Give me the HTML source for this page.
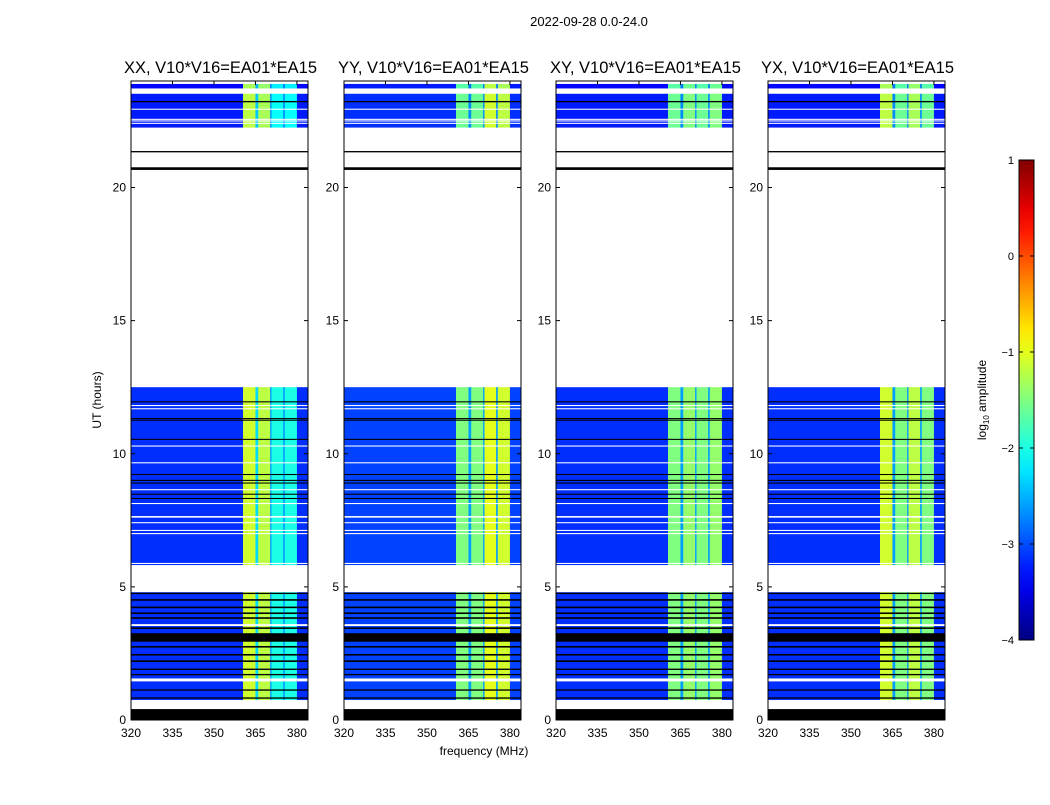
<!DOCTYPE html>
<html><head><meta charset="utf-8">
<style>
body{margin:0;background:#fff;width:1050px;height:800px;overflow:hidden;font-family:"Liberation Sans",sans-serif}
svg text{font-family:"Liberation Sans",sans-serif}
</style></head>
<body>
<svg id="chart" width="1050" height="800" xmlns="http://www.w3.org/2000/svg"></svg>
<script>
// ---- data ----
const panelTitles = ["XX, V10*V16=EA01*EA15","YY, V10*V16=EA01*EA15","XY, V10*V16=EA01*EA15","YX, V10*V16=EA01*EA15"];
const bandEdges = [320, 360.5, 365, 366, 370.3, 370.8, 375, 375.6, 380, 384]; // MHz
const bandLevelsXX = [-3.15, -1.1, -2.3, -1.2, -2.6, -2.0, -2.6, -2.0, -3.15];
const bandLevelsYY = [-3.05, -1.5, -2.6, -1.5, -2.6, -1.0, -2.6, -1.1, -3.05];
const bandLevelsXY = [-3.15, -1.5, -2.6, -1.4, -2.6, -1.5, -2.6, -1.4, -3.15];
const bandLevelsYX = [-3.15, -1.1, -2.6, -1.5, -2.6, -1.2, -2.6, -1.5, -3.15];
const blockStarts = [0.75, 5.82, 22.25, 23.72];
const blockEnds   = [4.80, 12.50, 23.52, 23.89];
const blockDim    = [0, 0, -0.1, -0.2];
const flagBlackStart = [0.0, 0.8, 1.1, 1.68, 1.88, 2.18, 2.42, 2.72, 2.94, 3.42, 3.8, 3.98, 4.2, 4.48, 4.73, 8.3, 8.46, 8.88, 8.98, 9.2, 10.52, 11.24, 11.3, 11.93, 23.2, 21.32, 20.66];
const flagBlackEnd   = [0.41, 0.85, 1.15, 1.73, 1.93, 2.24, 2.48, 2.78, 3.26, 3.48, 3.86, 4.04, 4.26, 4.54, 4.78, 8.34, 8.5, 8.92, 9.02, 9.24, 10.56, 11.28, 11.34, 11.97, 23.25, 21.37, 20.76];
const flagWhiteStart = [1.45, 3.53, 5.86, 6.98, 7.1, 7.39, 7.6, 8.11, 8.63, 9.64, 10.27, 11.67, 11.79, 22.39, 22.48, 22.54, 22.92];
const flagWhiteEnd   = [1.56, 3.6, 5.9, 7.02, 7.14, 7.43, 7.66, 8.15, 8.67, 9.68, 10.31, 11.71, 11.83, 22.43, 22.52, 22.58, 22.96];
const xTicks = [320, 335, 350, 365, 380];
const yTicks = [0, 5, 10, 15, 20];
const cbTicks = [-4, -3, -2, -1, 0, 1];

// ---- layout ----
const NS="http://www.w3.org/2000/svg";
const svg=document.getElementById('chart');
const panelLefts=[131,344,556,768], PW=177, TOP=81, BOT=720;
const fMin=320, fMax=384, hMin=0, hMax=24;
function mk(tag,attrs,parent){const e=document.createElementNS(NS,tag);for(const k in attrs)e.setAttribute(k,attrs[k]);(parent||svg).appendChild(e);return e;}
function jet(v){let t=(v+4)/5;t=Math.max(0,Math.min(1,t));
 const r=Math.max(0,Math.min(1,1.5-Math.abs(4*t-3))),g=Math.max(0,Math.min(1,1.5-Math.abs(4*t-2))),b=Math.max(0,Math.min(1,1.5-Math.abs(4*t-1)));
 return `rgb(${Math.round(r*255)},${Math.round(g*255)},${Math.round(b*255)})`;}
const yS=h=>BOT-(h-hMin)/(hMax-hMin)*(BOT-TOP);
const defs=mk('defs',{});

let t=mk('text',{x:589,y:26,'font-size':13,'text-anchor':'middle'});
t.textContent='2022-09-28 0.0-24.0';

const levelsAll=[bandLevelsXX,bandLevelsYY,bandLevelsXY,bandLevelsYX];
panelLefts.forEach((L,pi)=>{
 const xS=f=>L+(f-fMin)/(fMax-fMin)*PW;
 const g=mk('g',{});
 
 
 const levels=levelsAll[pi];
 blockStarts.forEach((bs,bi)=>{
  for(let c=0;c<levels.length;c++){
   const r=mk('rect',{x:xS(bandEdges[c]),y:yS(blockEnds[bi]),width:xS(bandEdges[c+1])-xS(bandEdges[c])+0.3,height:yS(bs)-yS(blockEnds[bi]),fill:jet(levels[c]+blockDim[bi])},g);
   
   
  }
 });
 flagWhiteStart.forEach((s,i)=>{const r=mk('rect',{x:L,y:yS(flagWhiteEnd[i]),width:PW,height:Math.max(1,yS(s)-yS(flagWhiteEnd[i])),fill:'#fff'},g);
  });
 flagBlackStart.forEach((s,i)=>{const r=mk('rect',{x:L,y:yS(flagBlackEnd[i]),width:PW,height:Math.max(1,yS(s)-yS(flagBlackEnd[i])),fill:'#000'},g);
  });
 const fr=mk('rect',{x:L,y:TOP,width:PW,height:BOT-TOP,fill:'none',stroke:'#000','stroke-width':1},g);
 
 xTicks.forEach(f=>{const x=xS(f);
  mk('line',{x1:x,x2:x,y1:BOT,y2:BOT-4,stroke:'#000'},g);mk('line',{x1:x,x2:x,y1:TOP,y2:TOP+4,stroke:'#000'},g);
  const tx=mk('text',{x:x,y:BOT+17,'font-size':12,'text-anchor':'middle'},g);
  tx.textContent=f;});
 yTicks.forEach(h=>{const y=yS(h);
  mk('line',{x1:L,x2:L+4,y1:y,y2:y,stroke:'#000'},g);mk('line',{x1:L+PW,x2:L+PW-4,y1:y,y2:y,stroke:'#000'},g);
  const tx=mk('text',{x:L-5,y:y+4,'font-size':12,'text-anchor':'end'},g);
  tx.textContent=h;});
 const tt=mk('text',{x:L+PW/2+1,y:73,'font-size':16.5,'text-anchor':'middle'},g);
 tt.textContent=panelTitles[pi];
});

t=mk('text',{x:0,y:0,'font-size':12,'text-anchor':'middle',transform:'translate(101,400) rotate(-90)'});
t.textContent='UT (hours)';
t=mk('text',{x:484,y:755,'font-size':12,'text-anchor':'middle'});
t.textContent='frequency (MHz)';

// colorbar
const CBX=1019,CBW=15,CBT=160,CBB=640;
const cbS=v=>CBB-(v+4)/5*(CBB-CBT);
const lg=mk('linearGradient',{id:'jetg',x1:'0',y1:'1',x2:'0',y2:'0'},defs);
for(let i=0;i<=20;i++){mk('stop',{offset:i/20,'stop-color':jet(-4+5*i/20)},lg);}
const cb=mk('rect',{x:CBX,y:CBT,width:CBW,height:CBB-CBT,fill:'url(#jetg)',stroke:'#000'});

cbTicks.forEach(v=>{const y=cbS(v);
 mk('line',{x1:CBX,x2:CBX+4,y1:y,y2:y,stroke:'#000'});mk('line',{x1:CBX+CBW,x2:CBX+CBW-4,y1:y,y2:y,stroke:'#000'});
 const tx=mk('text',{x:CBX-5,y:y+4,'font-size':11,'text-anchor':'end'});
 tx.textContent=v<0?'\u2212'+(-v):v;});
t=mk('text',{x:0,y:0,'font-size':12,'text-anchor':'middle',transform:'translate(986,400) rotate(-90)'});

t.innerHTML='log<tspan font-size="8" dy="3">10</tspan><tspan dy="-3"> amplitude</tspan>';
</script>
</body></html>
